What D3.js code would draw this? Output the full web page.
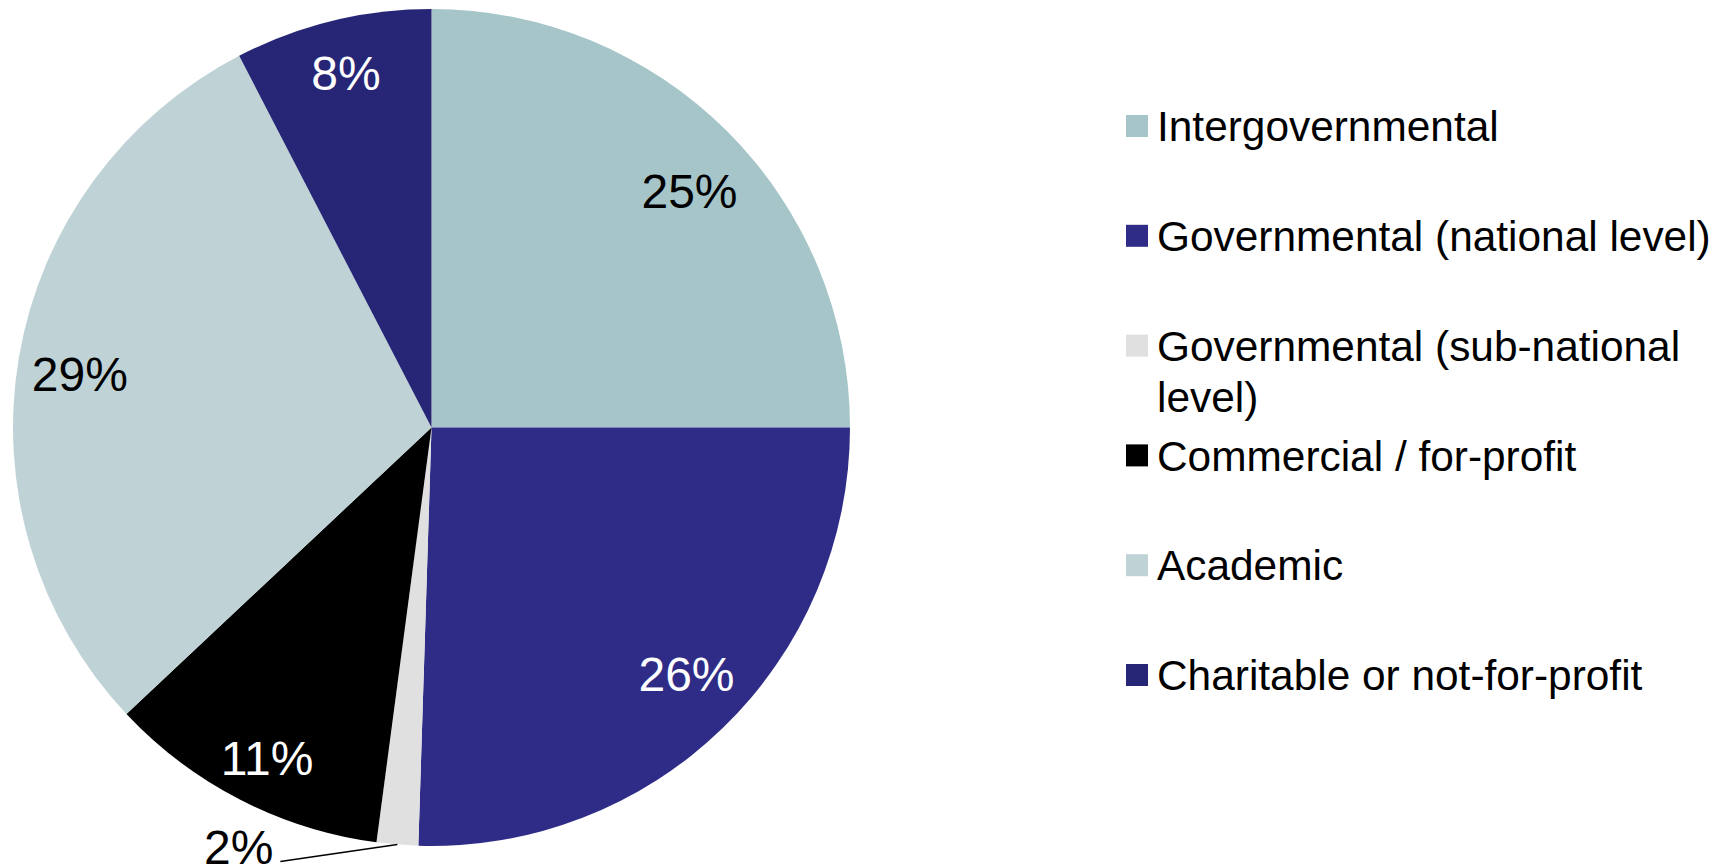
<!DOCTYPE html>
<html>
<head>
<meta charset="utf-8">
<script src="https://cdn.jsdelivr.net/npm/d3@7"></script>
<style>
  body { margin: 0; background: #fff; }
  text { font-family: "Liberation Sans", Arial, sans-serif; }
</style>
</head>
<body>
<script>
const categories = ["Intergovernmental", "Governmental (national level)", "Governmental (sub-national level)",
  "Commercial / for-profit", "Academic", "Charitable or not-for-profit"];
const legendLines = [["Intergovernmental"], ["Governmental (national level)"], ["Governmental (sub-national", "level)"],
  ["Commercial / for-profit"], ["Academic"], ["Charitable or not-for-profit"]];
const shares = [25.0, 25.5, 1.6, 10.9, 29.4, 7.6];
const labels = ["25%", "26%", "2%", "11%", "29%", "8%"];
const colors = ["#a5c5c8", "#2e2c86", "#e0e0e0", "#000000", "#bfd3d6", "#272676"];
const labelColors = ["#000", "#fff", "#000", "#fff", "#000", "#fff"];

const width = 1733, height = 866;
const cx = 431.5, cy = 427.5, radius = 418.5;

// excel "best fit" nudges for the inside labels, in px
const labelNudge = [[5, 16], [6, -11], [0, 0], [-1, 12], [1, 7], [-1, -7]];

const svg = d3.select("body").append("svg")
  .attr("width", width)
  .attr("height", height);

const data = categories.map((c, i) => ({name: c, value: shares[i], label: labels[i], i: i}));

const pie = d3.pie()
  .sort(null)
  .value(d => d.value);

const arc = d3.arc()
  .innerRadius(0)
  .outerRadius(radius);

const labelArc = d3.arc()
  .innerRadius(radius * 0.855)
  .outerRadius(radius * 0.855);

const edgeArc = d3.arc()
  .innerRadius(radius)
  .outerRadius(radius);

const g = svg.append("g")
  .attr("transform", "translate(" + cx + "," + cy + ")");

const arcs = pie(data);

g.selectAll("path.slice")
  .data(arcs)
  .enter().append("path")
  .attr("class", "slice")
  .attr("d", arc)
  .attr("fill", d => colors[d.data.i]);

// small slices get an outside label with a leader line
const inside = arcs.filter(d => d.data.value >= 5);
const outside = arcs.filter(d => d.data.value < 5);

g.selectAll("text.inlabel")
  .data(inside)
  .enter().append("text")
  .attr("class", "inlabel")
  .attr("transform", d => {
    const c = labelArc.centroid(d), n = labelNudge[d.data.i];
    return "translate(" + (c[0] + n[0]) + "," + (c[1] + n[1]) + ")";
  })
  .attr("text-anchor", "middle")
  .attr("dy", "0.36em")
  .attr("font-size", 48)
  .attr("fill", d => labelColors[d.data.i])
  .text(d => d.data.label);

outside.forEach(d => {
  const p = edgeArc.centroid(d);
  const q = [p[0] - 117, p[1] + 17];
  g.append("line")
    .attr("x1", p[0]).attr("y1", p[1])
    .attr("x2", q[0]).attr("y2", q[1])
    .attr("stroke", "#000")
    .attr("stroke-width", 1.5);
  g.append("text")
    .attr("x", q[0] - 7)
    .attr("y", q[1] + 2)
    .attr("text-anchor", "end")
    .attr("font-size", 48)
    .attr("fill", "#000")
    .text(d.data.label);
});

// legend
const legendX = 1126, legendTop = 126, legendStep = 109.8, lineH = 51, sw = 22;

const item = svg.selectAll("g.legend")
  .data(data)
  .enter().append("g")
  .attr("class", "legend")
  .attr("transform", (d, i) => "translate(" + legendX + "," + (legendTop + i * legendStep) + ")");

item.append("rect")
  .attr("x", 0)
  .attr("y", -sw / 2)
  .attr("width", sw)
  .attr("height", sw)
  .attr("fill", d => colors[d.i]);

item.append("text")
  .attr("font-size", 42.4)
  .attr("fill", "#000")
  .selectAll("tspan")
  .data(d => legendLines[d.i])
  .enter().append("tspan")
  .attr("x", 31)
  .attr("y", (t, j) => j * lineH)
  .attr("dy", "0.36em")
  .text(t => t);
</script>
</body>
</html>
